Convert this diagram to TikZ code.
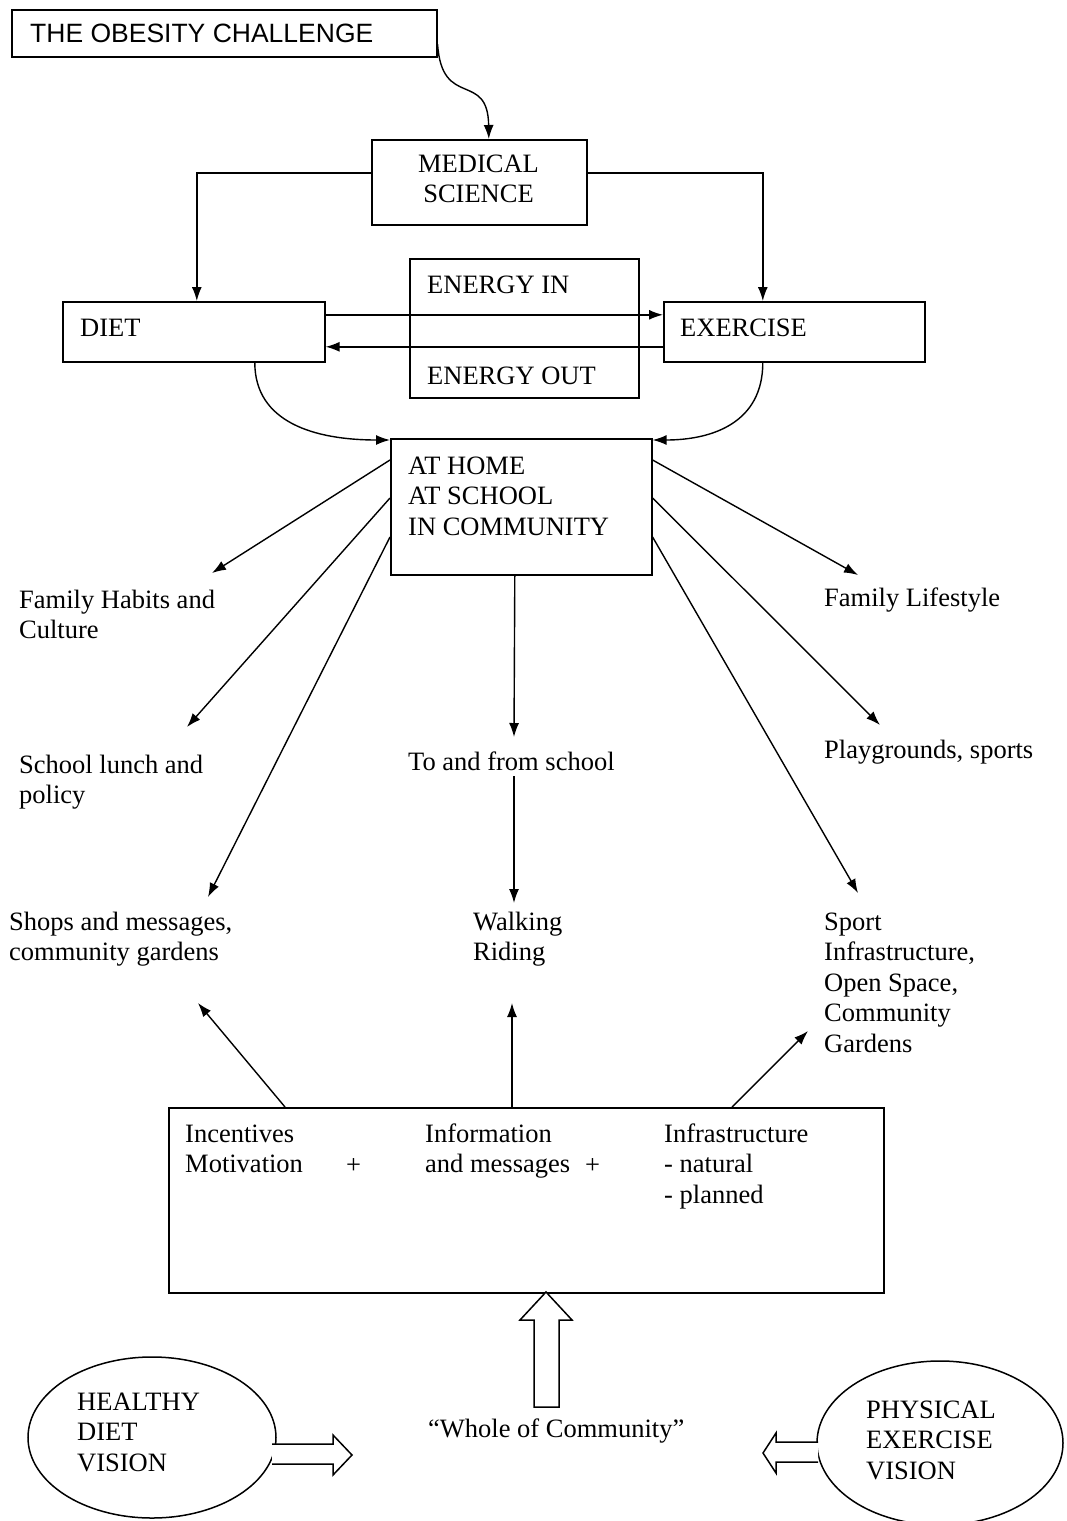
\documentclass[tikz,border=0pt]{standalone}
\usepackage{fontspec}
\setmainfont{Liberation Serif}
\newfontfamily\sansf{Liberation Sans}
\usetikzlibrary{arrows.meta,shapes.geometric}
\newcommand\ml[1]{\begin{tabular}[t]{@{}l@{}}#1\end{tabular}}
\newcommand\mlc[1]{\begin{tabular}[t]{@{}c@{}}#1\end{tabular}}
\begin{document}
\begin{tikzpicture}[x=1pt,y=-1pt,
  box/.style={draw=black,line width=1.6pt,rectangle,inner sep=0pt,anchor=north west},
  oval/.style={draw=black,line width=1.5pt,ellipse,inner sep=0pt},
  txt/.style={inner sep=0pt,anchor=base west,font=\fontsize{26.5}{30.5}\selectfont},
  arr/.style={line width=1.4pt,-{Latex[length=14pt,width=10pt]}},
  hollow/.style={line width=1.5pt,fill=white,line join=miter},
  ln/.style={line width=1.4pt}]
\useasboundingbox (0,0) rectangle (1066,1521);
% boxes
\node[box,minimum width=425pt,minimum height=47pt] (obesity) at (11,9) {};
\node[box,minimum width=215pt,minimum height=85pt] (medical) at (371,139) {};
\node[box,minimum width=229pt,minimum height=139pt] (energy) at (409,258) {};
\node[box,minimum width=262pt,minimum height=60pt] (diet) at (62,301) {};
\node[box,minimum width=261pt,minimum height=60pt] (exercise) at (663,301) {};
\node[box,minimum width=261pt,minimum height=136pt] (home) at (390,438) {};
\node[box,minimum width=715pt,minimum height=185pt] (bottom) at (168,1107) {};
\node[oval,minimum width=248pt,minimum height=161pt] (healthy) at (152,1437.5) {};
\node[oval,minimum width=246pt,minimum height=164pt] (physical) at (940,1443) {};
% texts
\node[txt,font=\fontsize{26.5}{30.5}\selectfont\sansf] (tobesity) at (30,42) {THE OBESITY CHALLENGE};
\node[txt,anchor=base] (tmedical) at (478.5,172) {\mlc{MEDICAL\\SCIENCE}};
\node[txt] (tdiet) at (80,336) {DIET};
\node[txt] (texercise) at (680,336) {EXERCISE};
\node[txt] (tein) at (427,293) {ENERGY IN};
\node[txt] (teout) at (427,384) {ENERGY OUT};
\node[txt] (thome) at (408,474) {\ml{AT HOME\\AT SCHOOL\\IN COMMUNITY}};
\node[txt] (lhabits) at (19,608) {\ml{Family Habits and\\Culture}};
\node[txt] (llunch) at (19,773) {\ml{School lunch and\\policy}};
\node[txt] (lshops) at (9,930) {\ml{Shops and messages,\\community gardens}};
\node[txt] (ltofrom) at (408,770) {To and from school};
\node[txt] (lwalk) at (473,930) {\ml{Walking\\Riding}};
\node[txt] (llife) at (824,606) {Family Lifestyle};
\node[txt] (lplay) at (824,758) {Playgrounds, sports};
\node[txt] (lsport) at (824,930) {\ml{Sport\\Infrastructure,\\Open Space,\\Community\\Gardens}};
\node[txt] (tinc) at (185,1142) {\ml{Incentives\\Motivation}};
\node[txt] (plus1) at (346,1173) {+};
\node[txt] (tinfo) at (425,1142) {\ml{Information\\and messages}};
\node[txt] (plus2) at (585,1173) {+};
\node[txt] (tinfra) at (664,1142) {\ml{Infrastructure\\- natural\\- planned}};
\node[txt] (twhole) at (428,1437) {“Whole of Community”};
\node[txt] (thealthy) at (77,1410) {\ml{HEALTHY\\DIET\\VISION}};
\node[txt] (tphysical) at (866,1418) {\ml{PHYSICAL\\EXERCISE\\VISION}};
% tip coordinates
\coordinate (cHabits) at (212,573);
\coordinate (cLunch) at (187,727);
\coordinate (cShops) at (208,897);
\coordinate (cToFrom) at (514,737);
\coordinate (cWalkTop) at (514,776);
\coordinate (cWalk) at (514,903);
\coordinate (cLife) at (858,575);
\coordinate (cPlay) at (880,725);
\coordinate (cSport) at (858,893);
\coordinate (cUpShops) at (198,1003);
\coordinate (cUpWalk) at (512,1003);
\coordinate (cUpSport) at (808,1031);
% connectors
\draw[arr] ([yshift=-11pt]obesity.east) .. controls (442,110) and (488,70) .. ([xshift=9.5pt]medical.north);
\draw[arr] ([yshift=9.5pt]medical.west) -| ([xshift=3pt]diet.north);
\draw[arr] ([yshift=9.5pt]medical.east) -| ([xshift=-31.5pt]exercise.north);
\draw[arr] ([yshift=17pt]diet.east) -- ([yshift=17pt]exercise.west);
\draw[arr] ([yshift=-15pt]exercise.west) -- ([yshift=-15pt]diet.east);
\draw[arr] ([xshift=61pt]diet.south) .. controls +(0,60) and +(-75,0) .. ([yshift=-2pt]home.north west);
\draw[arr] ([xshift=-31.5pt]exercise.south) .. controls +(0,60) and +(60,0) .. ([yshift=-2pt]home.north east);
\draw[arr] ([yshift=-22pt]home.north west) -- (cHabits);
\draw[arr] ([yshift=-60pt]home.north west) -- (cLunch);
\draw[arr] ([yshift=-99pt]home.north west) -- (cShops);
\draw[arr] ([yshift=-22pt]home.north east) -- (cLife);
\draw[arr] ([yshift=-60pt]home.north east) -- (cPlay);
\draw[arr] ([yshift=-99pt]home.north east) -- (cSport);
\draw[arr] ([xshift=-6.5pt]home.south) -- (cToFrom);
\draw[arr] (cWalkTop) -- (cWalk);
\draw[arr] ([xshift=117pt]bottom.north west) -- (cUpShops);
\draw[arr] ([xshift=344pt]bottom.north west) -- (cUpWalk);
\draw[arr] ([xshift=564pt]bottom.north west) -- (cUpSport);
% hollow arrows
\draw[hollow] (534,1407) -- (534,1320) -- (520,1320) -- (546,1292) -- (572,1320) -- (559,1320) -- (559,1407) -- cycle;
\draw[hollow] (272,1444) -- (333,1444) -- (333,1435) -- (352,1455) -- (333,1475) -- (333,1464) -- (272,1464);
\draw[hollow] (818,1442) -- (776,1442) -- (776,1433) -- (763,1453) -- (776,1473) -- (776,1462) -- (818,1462);
\end{tikzpicture}
\end{document}
